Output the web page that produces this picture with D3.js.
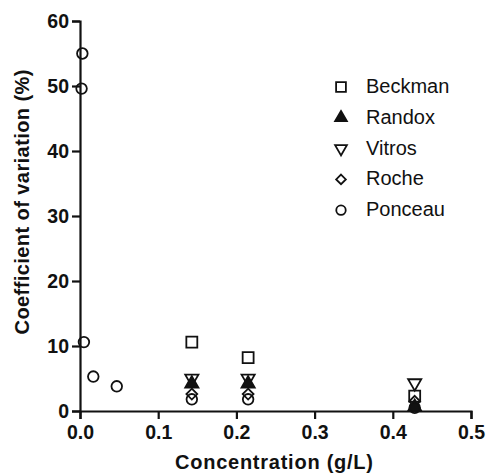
<!DOCTYPE html>
<html><head><meta charset="utf-8">
<script src="https://cdn.jsdelivr.net/npm/d3@7"></script>
<style>body{margin:0;background:#fff}svg{display:block}</style>
</head><body>
<script>
const seriesNames = ["Beckman","Randox","Vitros","Roche","Ponceau"];
const beckmanX = [0.143, 0.215, 0.428];
const beckmanY = [10.6, 8.2, 2.3];
const randoxX = [0.143, 0.215, 0.428];
const randoxY = [4.2, 4.2, 0.6];
const vitrosX = [0.143, 0.215, 0.428];
const vitrosY = [5.0, 5.0, 4.3];
const rocheX = [0.143, 0.215, 0.428];
const rocheY = [2.6, 2.6, 1.5];
const ponceauX = [0.003, 0.002, 0.005, 0.017, 0.047, 0.143, 0.215, 0.428];
const ponceauY = [55.0, 49.6, 10.6, 5.3, 3.8, 1.8, 1.8, 0.5];
const xTicks = [0, 0.1, 0.2, 0.3, 0.4, 0.5];
const yTicks = [0, 10, 20, 30, 40, 50, 60];

const W = 488, H = 475;
const svg = d3.select("body").append("svg").attr("width", W).attr("height", H);
const x = d3.scaleLinear().domain([0, 0.5]).range([80, 471]);
const y = d3.scaleLinear().domain([0, 60]).range([411, 21]);

const font = "'Liberation Sans', Arial, Helvetica, sans-serif";

const xa = svg.append("g").attr("transform", "translate(0,411)")
  .call(d3.axisBottom(x).tickValues(xTicks).tickFormat(d3.format(".1f")).tickSizeOuter(0).tickSize(8).tickPadding(6));
const ya = svg.append("g").attr("transform", "translate(80,0)")
  .call(d3.axisLeft(y).tickValues(yTicks).tickFormat(d3.format("d")).tickSizeOuter(0).tickSize(8).tickPadding(3));
[xa, ya].forEach(a => {
  a.select(".domain").attr("stroke", "#111").attr("stroke-width", 2.2);
  a.selectAll(".tick line").attr("stroke", "#111").attr("stroke-width", 2.2);
  a.selectAll("text").attr("font-family", font).attr("font-weight", "bold").attr("font-size", 19.5).attr("fill", "#111");
});

svg.append("text").attr("x", 274).attr("y", 469).attr("text-anchor", "middle")
  .attr("font-family", font).attr("font-weight", "bold").attr("font-size", 20).attr("fill", "#111")
  .attr("textLength", 198).attr("lengthAdjust", "spacing")
  .text("Concentration (g/L)");
svg.append("text").attr("transform", "translate(29,202) rotate(-90)").attr("text-anchor", "middle")
  .attr("font-family", font).attr("font-weight", "bold").attr("font-size", 20).attr("fill", "#111")
  .attr("textLength", 265).attr("lengthAdjust", "spacing")
  .text("Coefficient of variation (%)");

const symbols = {
  Beckman: {type: d3.symbolSquare, size: 120, fill: "none", rot: 0},
  Randox: {type: d3.symbolTriangle, size: 75, fill: "#111", rot: 0},
  Vitros: {type: d3.symbolTriangle, size: 75, fill: "none", rot: 180},
  Roche: {type: d3.symbolDiamond2, size: 75, fill: "none", rot: 0},
  Ponceau: {type: d3.symbolCircle, size: 88, fill: "none", rot: 0}
};
const data = {
  Beckman: [beckmanX, beckmanY], Randox: [randoxX, randoxY], Vitros: [vitrosX, vitrosY],
  Roche: [rocheX, rocheY], Ponceau: [ponceauX, ponceauY]
};
function drawSym(g, name, cx, cy, scale) {
  const s = symbols[name];
  g.append("path").attr("d", d3.symbol().type(s.type).size(s.size * (scale||1))())
    .attr("transform", `translate(${cx},${cy}) rotate(${s.rot})`)
    .attr("fill", s.fill).attr("stroke", "#111").attr("stroke-width", 1.8);
}
const pg = svg.append("g");
["Ponceau","Roche","Vitros","Randox","Beckman"].forEach(n => {
  const [xs, ys] = data[n];
  xs.forEach((xv, i) => drawSym(pg, n, x(xv), y(ys[i])));
});
pg.append("circle").attr("cx", x(0.428)).attr("cy", y(0.5)).attr("r", 4.5).attr("fill", "#111");

const lg = svg.append("g");
seriesNames.forEach((n, i) => {
  const yy = 93 + i * 30.8;
  drawSym(lg, n, 341, yy - 6, 0.8);
  lg.append("text").attr("x", 366).attr("y", yy).attr("font-family", font).attr("font-size", 20)
    .attr("fill", "#111").text(n);
});
</script>
</body></html>
